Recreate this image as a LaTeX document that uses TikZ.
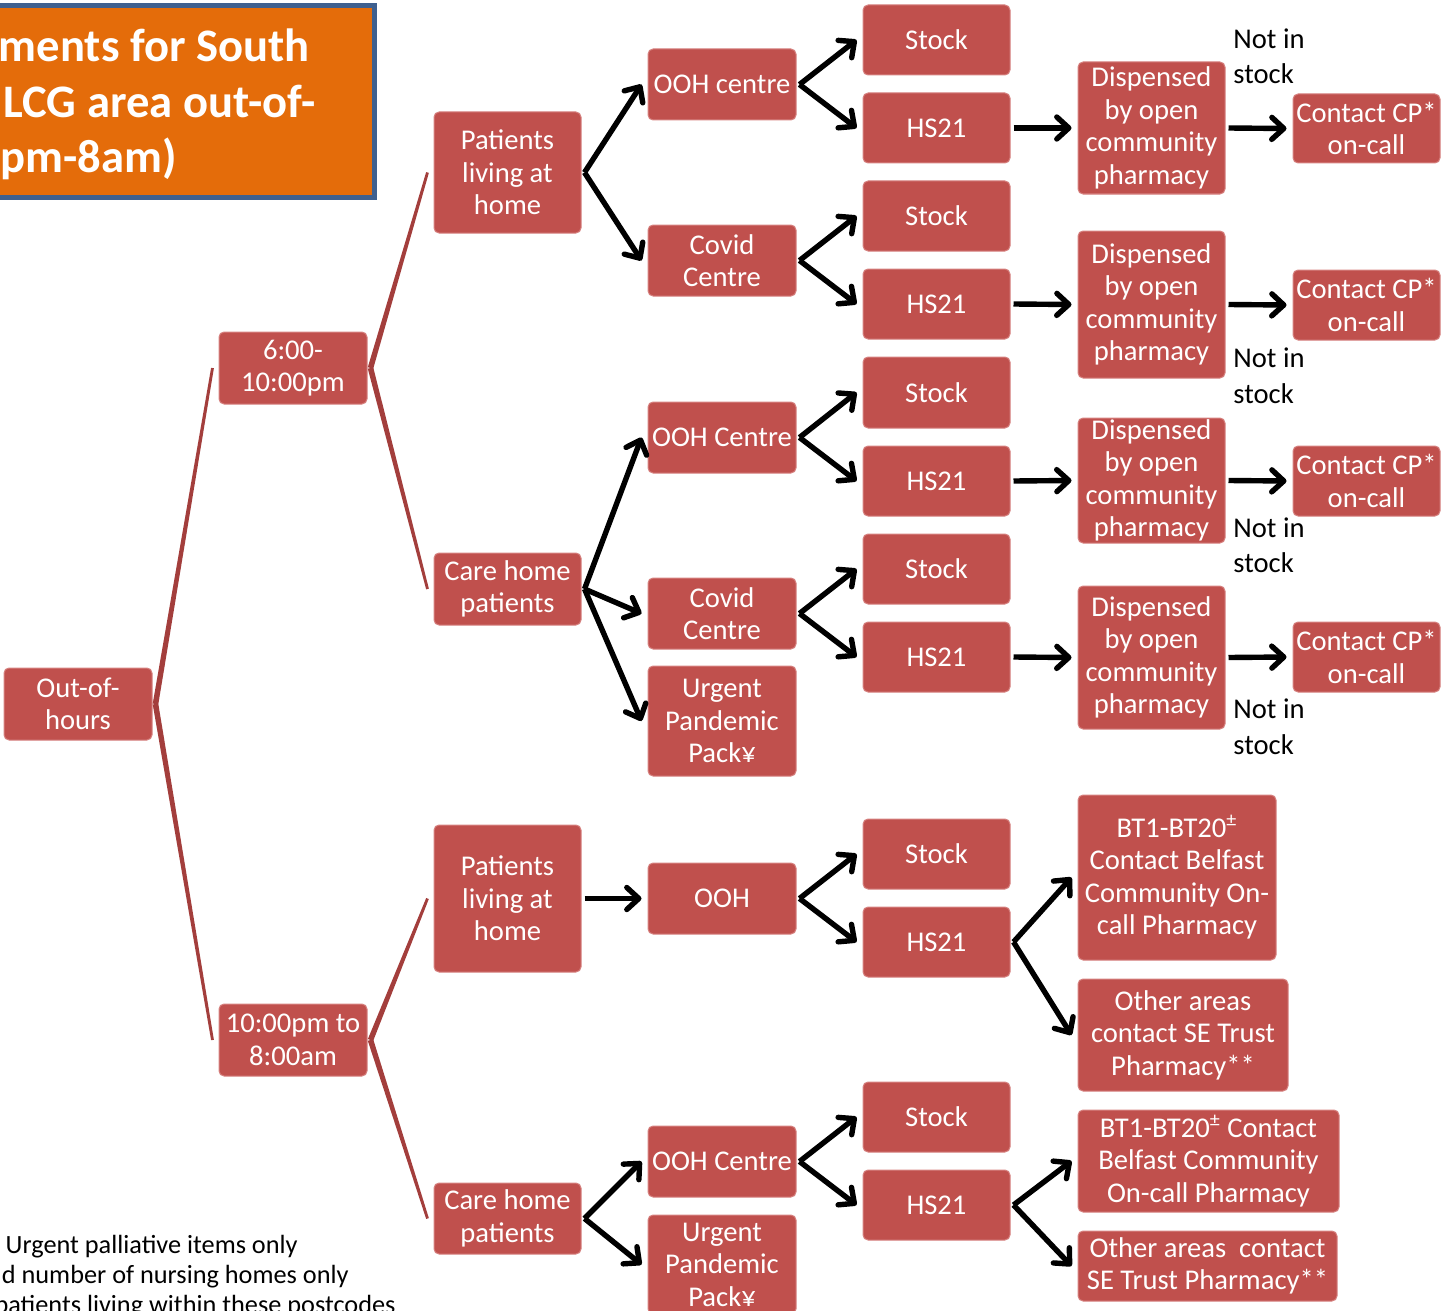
\documentclass[tikz,border=0pt]{standalone}
\usepackage{fontspec}
\setmainfont{Carlito}
\usetikzlibrary{arrows.meta,calc}
\definecolor{boxred}{RGB}{192,80,77}
\definecolor{boxedge}{RGB}{214,130,128}
\definecolor{linkred}{RGB}{163,62,60}
\definecolor{titleorange}{RGB}{228,108,10}
\definecolor{titleblue}{RGB}{62,96,143}
\tikzset{
  box/.style={draw=boxedge, line width=0.5pt, fill=boxred, rounded corners=2.5pt, inner sep=0pt},
  boxtext/.style={text=white, align=center, inner sep=0pt, font=\fontsize{14.3}{16.25}\selectfont},
  plaintext/.style={text=black, inner sep=0pt, font=\fontsize{14.3}{16.25}\selectfont},
  foottext/.style={text=black, inner sep=0pt, anchor=base east, font=\fontsize{13.15}{16}\selectfont},
  titletext/.style={text=white, inner sep=0pt, anchor=base east, font=\fontsize{23.3}{27.5}\selectfont\bfseries},
  arr/.style={draw=black, line width=2.7pt, -{Straight Barb[length=6pt,width=11pt,round]}},
}
\newcommand\bx[6]{%
  \pgfmathsetmacro\bxX{(#2+#4)/2}\pgfmathsetmacro\bxY{(#3+#5)/2}%
  \pgfmathsetmacro\bxW{(#4-#2)/2}\pgfmathsetmacro\bxH{(#5-#3)/2}%
  \node[box, minimum width=\bxW pt, minimum height=\bxH pt] (#1) at (\bxX,\bxY) {};%
  \node[boxtext] (#1t) at (#1.center) {#6};}
\newcommand\arw[2]{\draw[arr] ([xshift=1.5pt]#1.east) -- ([xshift=-3pt]#2.west);}
\newcommand\lnk[2]{%
  \coordinate (la) at ([xshift=1.5pt]#1.east);
  \coordinate (lb) at ([xshift=-3pt]#2.west);
  \fill[linkred] ($(la)!1.4pt!90:(lb)$) -- ($(lb)!0.7pt!-90:(la)$) -- ($(lb)!0.7pt!90:(la)$) -- ($(la)!1.4pt!-90:(lb)$) -- cycle;}
\begin{document}
\begin{tikzpicture}[x=0.5pt,y=-0.5pt]
\useasboundingbox (0,0) rectangle (1441,1311);
\clip (0,0) rectangle (1441,1311);
% title
\draw[fill=titleorange, draw=titleblue, line width=2.5pt] (-20,6) rectangle (374,197.5);
\node[titletext] (ti1) at (310,62) {ments for South};
\node[titletext] (ti2) at (316,118) {LCG area out-of-};
\node[titletext] (ti3) at (177,173) {pm-8am)};
% footnotes
\node[foottext] (fn1) at (298,1253) {Urgent palliative items only};
\node[foottext] (fn2) at (349,1283) {d number of nursing homes only};
\node[foottext] (fn3) at (396,1313) {patients living within these postcodes};
% column A, B
\bx{ooh}{4}{668}{152}{740}{Out-of-\\hours}
\bx{ta}{219}{332}{367}{404}{6:00-\\10:00pm}
\bx{tb}{219}{1004}{367}{1076}{10:00pm to\\8:00am}
% column C
\bx{pa}{434}{112}{581}{233}{Patients\\living at\\home}
\bx{ca}{434}{553}{581}{625}{Care home\\patients}
\bx{pb}{434}{825}{581}{972}{Patients\\living at\\home}
\bx{cb}{434}{1183}{581}{1254}{Care home\\patients}
% column D
\bx{da}{648}{49}{796}{120}{OOH centre}
\bx{db}{648}{225}{796}{296}{Covid\\Centre}
\bx{dc}{648}{402}{796}{473}{OOH Centre}
\bx{dd}{648}{578}{796}{649}{Covid\\Centre}
\bx{de}{648}{666}{796}{776}{Urgent\\Pandemic\\Pack¥}
\bx{df}{648}{863}{796}{934}{OOH}
\bx{dg}{648}{1126}{796}{1197}{OOH Centre}
\bx{dh}{648}{1215}{796}{1314}{Urgent\\Pandemic\\Pack¥}
% column E
\bx{sa}{863}{5}{1010}{75}{Stock}
\bx{ha}{863}{93}{1010}{163}{HS21}
\bx{sb}{863}{181}{1010}{251}{Stock}
\bx{hb}{863}{269}{1010}{339}{HS21}
\bx{sc}{863}{357}{1010}{428}{Stock}
\bx{hc}{863}{446}{1010}{516}{HS21}
\bx{sd}{863}{534}{1010}{604}{Stock}
\bx{hd}{863}{622}{1010}{692}{HS21}
\bx{se}{863}{819}{1010}{889}{Stock}
\bx{he}{863}{907}{1010}{977}{HS21}
\bx{sf}{863}{1082}{1010}{1152}{Stock}
\bx{hf}{863}{1170}{1010}{1240}{HS21}
% column F
\bx{fa}{1078}{62}{1225}{194}{Dispensed\\by open\\community\\pharmacy}
\bx{fb}{1078}{231}{1225}{378}{Dispensed\\by open\\community\\pharmacy}
\bx{fc}{1078}{418}{1225}{543}{Dispensed\\by open\\community\\pharmacy}
\bx{fd}{1078}{586}{1225}{729}{Dispensed\\by open\\community\\pharmacy}
\bx{ba}{1078}{795}{1276}{960}{BT1-BT20\textsuperscript{±}\\Contact Belfast\\Community On-\\call Pharmacy}
\bx{oa}{1078}{979}{1288}{1091}{Other areas\\contact SE Trust\\Pharmacy**}
\bx{bb}{1078}{1110}{1339}{1212}{BT1-BT20\textsuperscript{±} Contact\\Belfast Community\\On-call Pharmacy}
\bx{ob}{1078}{1231}{1337}{1301}{Other areas\ \ contact\\SE Trust Pharmacy**}
% column G
\bx{ga}{1293}{94}{1440}{163}{Contact CP*\\on-call}
\bx{gb}{1293}{270}{1440}{340}{Contact CP*\\on-call}
\bx{gc}{1293}{446}{1440}{516}{Contact CP*\\on-call}
\bx{gd}{1293}{622}{1440}{692}{Contact CP*\\on-call}
% not in stock labels
\node[plaintext, anchor=base west] (na1) at (1233,49) {Not in};
\node[plaintext, anchor=base west] (na2) at (1233,84) {stock};
\node[plaintext, anchor=base west] (nb1) at (1233,367) {Not in};
\node[plaintext, anchor=base west] (nb2) at (1233,403) {stock};
\node[plaintext, anchor=base west] (nc1) at (1233,537) {Not in};
\node[plaintext, anchor=base west] (nc2) at (1233,572) {stock};
\node[plaintext, anchor=base west] (nd1) at (1233,718) {Not in};
\node[plaintext, anchor=base west] (nd2) at (1233,754) {stock};
% red tree links
\lnk{ooh}{ta}
\lnk{ooh}{tb}
\lnk{ta}{pa}
\lnk{ta}{ca}
\lnk{tb}{pb}
\lnk{tb}{cb}
% arrows
\arw{pa}{da}
\arw{pa}{db}
\arw{ca}{dc}
\arw{ca}{dd}
\arw{ca}{de}
\arw{da}{sa}
\arw{da}{ha}
\arw{db}{sb}
\arw{db}{hb}
\arw{dc}{sc}
\arw{dc}{hc}
\arw{dd}{sd}
\arw{dd}{hd}
\arw{ha}{fa}
\arw{hb}{fb}
\arw{hc}{fc}
\arw{hd}{fd}
\arw{fa}{ga}
\arw{fb}{gb}
\arw{fc}{gc}
\arw{fd}{gd}
\arw{pb}{df}
\arw{df}{se}
\arw{df}{he}
\arw{he}{ba}
\arw{he}{oa}
\arw{cb}{dg}
\arw{cb}{dh}
\arw{dg}{sf}
\arw{dg}{hf}
\arw{hf}{bb}
\arw{hf}{ob}
\end{tikzpicture}
\end{document}
